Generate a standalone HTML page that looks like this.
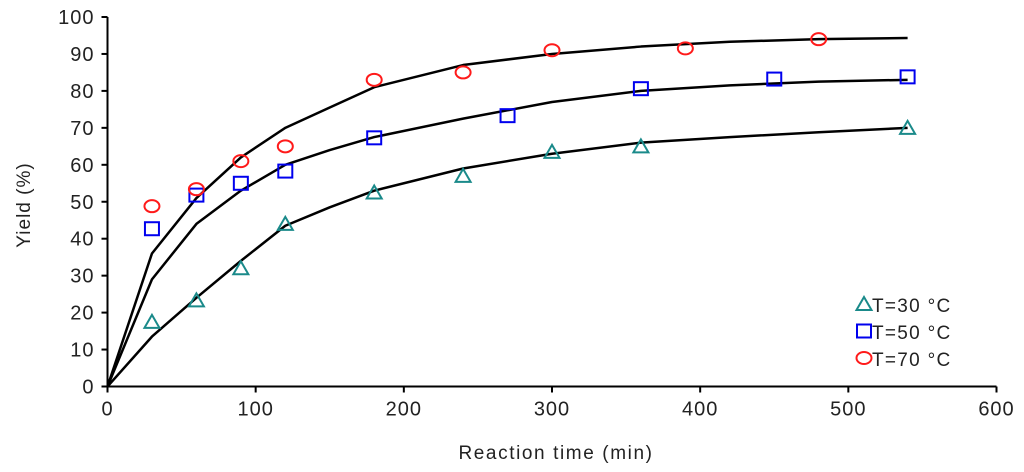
<!DOCTYPE html>
<html><head><meta charset="utf-8"><style>
body{margin:0;background:#fff;width:1024px;height:472px;overflow:hidden}
svg{display:block;font-family:"Liberation Sans",Arial,sans-serif}
</style></head><body>
<svg id="chart" width="1024" height="472" viewBox="0 0 1024 472"></svg>
<script>
const xTicks=[0,100,200,300,400,500,600];
const yTicks=[0,10,20,30,40,50,60,70,80,90,100];
const x30=[30,60,90,120,180,240,300,360,540];
const y30=[17.5,23.3,32,44,52.5,57,63.5,65,70];
const x50=[30,60,90,120,180,270,360,450,540];
const y50=[42.7,51.8,55,58.3,67.3,73.3,80.6,83.2,83.8];
const x70=[30,60,90,120,180,240,300,390,480];
const y70=[48.8,53.4,61,65,83,85,91,91.5,94];
const fitX=[0,30,60,90,120,150,180,240,300,360,420,480,540];
const fit30=[0,13.5,24,34,43.5,48.5,53,59,63,66,67.5,68.8,70];
const fit50=[0,29,44,53,60,64,67.5,72.5,77,80,81.5,82.5,83];
const fit70=[0,36,51,62,70,75.5,81,87,90,92,93.3,94,94.3];

const NS="http://www.w3.org/2000/svg";
const svg=document.getElementById('chart');
const X0=107.5,X1=996.5,Y0=386.5,Y1=17;
const sx=v=>X0+(v/600)*(X1-X0);
const sy=v=>Y0-(v/100)*(Y0-Y1);
function mk(tag,attrs,parent){const e=document.createElementNS(NS,tag);for(const k in attrs)e.setAttribute(k,attrs[k]);(parent||svg).appendChild(e);return e;}

const axes=mk('g',{stroke:'#000','stroke-width':2,fill:'none'});


mk('line',{x1:X0,y1:Y1,x2:X0,y2:Y0},axes);
mk('line',{x1:X0,y1:Y0,x2:X1,y2:Y0},axes);
xTicks.forEach(t=>{
  mk('line',{x1:sx(t),y1:Y0,x2:sx(t),y2:Y0+6},axes);
  const tx=mk('text',{x:sx(t),y:Y0+29,'text-anchor':'middle','font-size':20,'letter-spacing':1,fill:'#222'});
  
  
  tx.textContent=t;
});
yTicks.forEach(t=>{
  mk('line',{x1:X0-6,y1:sy(t),x2:X0,y2:sy(t)},axes);
  const tx=mk('text',{x:X0-13,y:sy(t)+7,'text-anchor':'end','font-size':20,'letter-spacing':1,fill:'#222'});
  
  
  tx.textContent=t;
});
const xt=mk('text',{x:556,y:459,'text-anchor':'middle','font-size':19,'letter-spacing':1.6,fill:'#222'});


xt.textContent='Reaction time (min)';
const yt=mk('text',{x:0,y:0,'text-anchor':'middle','font-size':19,'letter-spacing':1,fill:'#222',transform:'translate(30,205) rotate(-90)'});


yt.textContent='Yield (%)';

[[fit30,'fit-line-30c'],[fit50,'fit-line-50c'],[fit70,'fit-line-70c']].forEach(([ys,n])=>{
  const p=mk('polyline',{points:fitX.map((x,i)=>sx(x)+','+sy(ys[i])).join(' '),fill:'none',stroke:'#000','stroke-width':2.5,'stroke-linejoin':'round'});
  
  
});
function tri(cx,cy,g){return mk('polygon',{points:`${cx},${cy-7} ${cx-7.5},${cy+6} ${cx+7.5},${cy+6}`,fill:'none',stroke:'#1a8a8a','stroke-width':2},g);}
function sq(cx,cy,g){return mk('rect',{x:cx-7,y:cy-6.5,width:14,height:13,fill:'none',stroke:'#0000ee','stroke-width':2},g);}
function ci(cx,cy,g){return mk('ellipse',{cx:cx,cy:cy,rx:7.5,ry:6,fill:'none',stroke:'#ff1a1a','stroke-width':2},g);}
[[x30,y30,tri,'series-30c'],[x50,y50,sq,'series-50c'],[x70,y70,ci,'series-70c']].forEach(([xs,ys,f,n])=>{
  const g=mk('g',{});
  
  
  xs.forEach((x,i)=>{const m=f(sx(x),sy(ys[i]),g);
    
    });
});
const lg=mk('g',{});


[[tri,'T=30 °C',305],[sq,'T=50 °C',332],[ci,'T=70 °C',359]].forEach(([f,l,y])=>{
  const e=mk('g',{},lg);
  
  
  f(864,y-1,e);
  const t=mk('text',{x:872,y:y+7,'font-size':19,'letter-spacing':1.3,fill:'#222'},e);
  t.textContent=l;
});
</script>
</body></html>
